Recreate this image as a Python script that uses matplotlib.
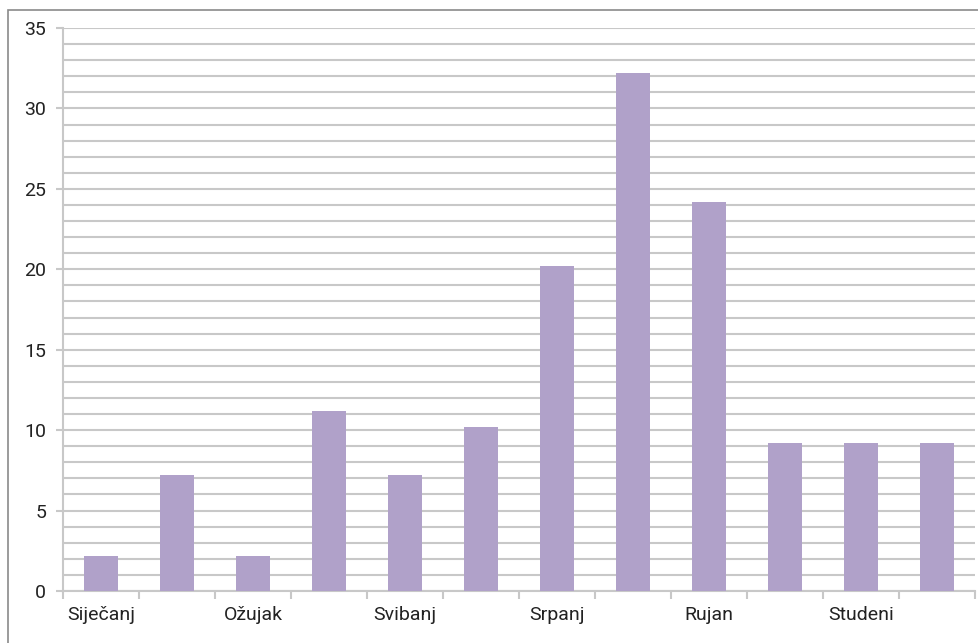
import matplotlib
matplotlib.use("Agg")
import matplotlib.pyplot as plt
import matplotlib.patches as mpatch
from matplotlib.ticker import MultipleLocator, FixedLocator
import numpy as np

plt.rcParams["font.family"] = ["Roboto", "DejaVu Sans"]

months = ["Siječanj", "Veljača", "Ožujak", "Travanj", "Svibanj", "Lipanj",
          "Srpanj", "Kolovoz", "Rujan", "Listopad", "Studeni", "Prosinac"]
values = [2.2, 7.2, 2.2, 11.2, 7.2, 10.2, 20.2, 32.2, 24.2, 9.2, 9.2, 9.2]

bar_color = "#b0a1c9"
grid_color = "#c8c8c8"
text_color = "#222222"

fig = plt.figure(figsize=(9.79, 6.43), dpi=100)
ax = fig.add_axes([63 / 979, 1 - 591 / 643, (975 - 63) / 979, (591 - 28) / 643])

x = np.arange(len(months))
ax.bar(x, values, width=0.46, color=bar_color, zorder=3)

ax.set_xlim(-0.5, len(months) - 0.5)
ax.set_ylim(0, 35)

# horizontal grid every unit
ax.yaxis.set_major_locator(MultipleLocator(5))
ax.yaxis.set_minor_locator(MultipleLocator(1))
ax.grid(axis="y", which="both", color=grid_color, linewidth=1.5, zorder=1)
ax.set_axisbelow(True)

# x labels on every other month, ticks at category edges
ax.xaxis.set_major_locator(FixedLocator(x[::2]))
ax.set_xticklabels(months[::2])
ax.xaxis.set_minor_locator(FixedLocator(np.arange(-0.5, len(months) + 0.5, 1)))
ax.tick_params(axis="x", which="major", length=0, pad=11, labelsize=14,
               labelcolor=text_color)
ax.tick_params(axis="x", which="minor", length=6, width=1.5, color=grid_color,
               direction="out")
ax.tick_params(axis="y", which="major", length=5, width=1.5, color=grid_color,
               pad=7, labelsize=14, labelcolor=text_color)
ax.tick_params(axis="y", which="minor", length=0)

for side in ["top", "right"]:
    ax.spines[side].set_visible(False)
for side in ["left", "bottom"]:
    ax.spines[side].set_color(grid_color)
    ax.spines[side].set_linewidth(1.5)

# outer frame (cropped on right and bottom)
frame = mpatch.Rectangle((8 / 979, -0.1), 1.2, 1 - 10 / 643 + 0.1,
                         transform=fig.transFigure, fill=False,
                         edgecolor="#8a8a8a", linewidth=1.2)
fig.patches.append(frame)

fig.savefig("out.png", dpi=100)
